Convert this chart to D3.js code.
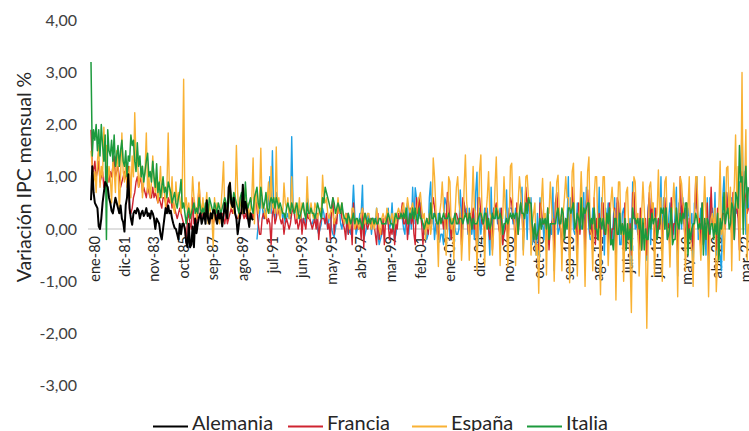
<!DOCTYPE html>
<html><head><meta charset="utf-8">
<script src="https://cdn.jsdelivr.net/npm/d3@7"></script>
<style>
html,body{margin:0;padding:0;background:#fff;}
svg{display:block;font-family:Lato,"Noto Sans",sans-serif;}
</style></head>
<body><svg id="chart" width="749" height="431"></svg>
<script>
// ---- DATA (monthly CPI change, %) ----
const tickLabels = ["ene-80","dic-81","nov-83","oct-85","sep-87","ago-89","jul-91","jun-93","may-95","abr-97","mar-99","feb-01","ene-03","dic-04","nov-06","oct-08","sep-10","ago-12","jul-14","jun-16","may-18","abr-20","mar-22"];
const yTicks = [-3,-2,-1,0,1,2,3,4];

const alemania = [ // ene-80 .. jul-90
0.55,1.2,0.7,0.5,0.45,0.4,0.05,0.0,0.2,0.5,0.7,0.9,
0.85,0.8,0.6,0.5,0.35,0.3,0.45,0.6,0.5,0.4,0.3,0.45,
0.2,0.13,-0.05,0.46,0.6,1.05,0.4,0.2,0.08,0.3,0.35,0.3,
0.4,0.35,0.2,0.3,0.35,0.25,0.3,0.4,0.25,0.3,0.2,0.35,
0.3,0.2,0.0,0.2,0.15,0.1,-0.1,-0.2,0.0,0.2,0.4,0.3,
0.45,0.3,0.35,0.2,0.1,0.02,0.0,-0.1,-0.2,0.1,-0.1,0.1,
0.1,0.0,-0.25,-0.35,0.1,-0.35,-0.3,0.05,-0.35,0.2,-0.08,0.1,
0.23,0.3,0.1,0.2,0.3,0.1,0.55,0.2,0.1,0.3,0.2,0.36,
0.36,0.2,0.1,0.35,0.2,0.3,0.05,0.25,0.5,0.3,0.2,0.8,
0.88,0.5,0.42,0.6,0.3,0.2,-0.1,0.1,0.3,0.3,0.85,0.3,
0.52,0.4,0.2,0.04,0.3,0.2,0.17];

const alemaniaUnificada = [ // oct-90 .. ago-22
-0.2,0.1,0.3,
0.6,0.5,0.2,0.4,0.3,0.4,0.5,1.0,0.3,1.5,0.3,0.2,
0.7,0.5,0.4,0.3,0.4,0.2,0.3,0.1,0.2,0.3,0.2,0.2,
1.77,0.5,0.3,0.4,0.2,0.2,0.4,0.3,0.1,0.2,0.2,0.1,
0.6,0.5,0.2,0.1,0.1,0.2,0.3,0.2,0.0,-0.1,0.0,0.1,
0.4,0.3,0.1,0.2,0.0,0.2,0.3,0.0,-0.1,-0.15,0.0,0.2,
0.5,0.4,0.1,0.0,0.2,0.1,0.3,0.0,-0.1,0.0,-0.1,0.3,
0.84,0.3,-0.1,0.0,0.1,0.3,0.3,0.84,-0.2,-0.1,0.0,0.3,
0.2,0.2,-0.1,0.2,0.2,0.1,0.4,-0.1,-0.3,-0.2,-0.1,0.1,
0.1,0.1,0.1,0.4,0.0,0.1,0.5,0.0,-0.2,-0.1,0.1,0.3,
0.3,0.3,0.2,0.0,-0.1,0.4,0.5,-0.1,0.3,0.0,0.8,0.1,
0.79,0.6,0.2,0.4,0.5,0.1,0.1,-0.1,0.0,-0.2,-0.1,0.6,
0.9,0.1,0.3,-0.2,0.1,-0.1,0.3,-0.25,-0.1,-0.1,-0.3,0.6,
0.5,0.4,0.2,-0.2,-0.2,0.1,0.2,0.0,-0.1,-0.1,0.0,0.75,
0.3,0.0,0.5,0.3,0.4,-0.1,0.4,0.0,-0.1,0.2,-0.2,0.7,
1.09,-0.3,0.4,-0.1,0.2,0.1,0.4,0.0,0.4,0.0,-0.5,0.8,
-0.1,0.4,0.2,0.4,0.1,0.1,0.4,-0.1,-0.3,0.0,0.1,0.75,
-0.3,0.4,0.4,0.4,0.1,0.1,0.4,0.0,0.2,0.2,0.5,0.8,
-0.4,0.4,0.5,-0.2,0.6,0.3,0.6,-0.3,-0.1,-0.2,-0.5,0.3,
-0.5,0.6,0.0,0.2,-0.2,0.2,0.0,0.2,-0.3,0.0,-0.1,0.8,
-0.8,0.5,0.6,-0.1,0.0,0.1,0.2,0.1,-0.1,0.0,0.1,1.0,
-0.5,0.6,0.6,0.0,-0.1,0.0,0.5,0.0,0.1,0.0,0.1,0.7,
-0.5,0.8,0.5,0.0,-0.2,-0.2,0.4,0.4,0.0,0.0,-0.2,0.8,
-0.7,0.6,0.4,-0.5,0.4,0.1,0.5,0.1,0.0,-0.3,0.2,0.6,
-0.7,0.5,0.4,-0.3,-0.3,0.3,0.4,0.0,-0.1,-0.2,-0.1,0.2,
-0.7,0.9,0.5,0.0,0.1,-0.1,0.2,0.0,-0.2,0.0,0.1,0.0,
-0.6,0.4,0.6,-0.3,0.4,0.2,0.4,0.0,0.1,0.2,0.1,1.0,
-0.5,0.6,0.0,0.4,-0.2,0.2,0.5,0.2,0.1,-0.1,0.3,0.8,
-0.9,0.5,0.4,0.0,0.6,0.1,0.4,0.1,0.4,0.2,0.1,0.3,
-0.8,0.5,0.4,1.0,-0.2,0.1,0.4,-0.1,-0.1,0.1,-0.5,0.6,
-0.6,0.6,0.1,0.4,-0.1,0.7,-0.5,-0.2,-0.4,-0.5,-0.8,0.6,
1.0,0.4,0.7,0.5,0.3,0.4,0.6,0.1,0.3,0.5,0.3,0.3,
0.9,0.9,2.0,0.7,1.1,-0.1,0.8,0.4];

const francia = [ // ene-80 .. ago-22
1.9,1.2,1.1,1.3,1.0,1.1,1.3,0.9,1.0,1.1,0.8,0.9,
1.2,1.0,0.9,1.1,1.0,1.2,1.4,1.0,1.1,1.2,1.0,0.8,
0.9,1.0,1.1,1.0,0.9,1.2,0.3,0.3,0.4,0.6,0.7,0.9,
1.0,0.8,0.9,1.0,0.7,0.8,0.7,0.6,0.8,0.7,0.6,0.6,
0.8,0.6,0.7,0.6,0.5,0.6,0.5,0.4,0.6,0.6,0.5,0.4,
0.6,0.5,0.6,0.4,0.5,0.4,0.3,0.2,0.3,0.4,0.3,0.2,
0.1,0.0,-0.27,0.2,0.3,0.1,0.0,0.6,0.1,0.2,0.1,0.3,
0.88,0.3,0.2,0.4,0.3,0.2,0.3,0.2,0.1,0.3,0.2,0.1,
0.2,0.3,0.2,0.3,0.2,0.2,0.3,0.2,0.1,0.3,0.1,0.2,
0.3,0.4,0.3,0.4,0.3,0.2,0.2,0.3,0.2,0.4,0.3,0.2,
0.3,0.2,0.4,0.3,0.2,0.3,0.2,0.5,0.68,0.4,0.1,-0.1,
-0.1,0.2,0.3,0.2,0.3,0.1,0.2,0.1,-0.3,0.3,0.4,0.1,
0.2,0.4,0.3,0.2,0.1,0.2,-0.1,0.1,0.2,0.1,0.0,0.1,
0.3,0.4,0.3,0.1,0.2,0.0,0.1,0.3,-0.1,0.2,0.1,0.0,
0.3,0.2,0.2,0.1,0.0,0.1,0.2,0.0,0.3,-0.2,0.1,0.2,
0.2,0.2,0.1,0.3,0.0,0.1,-0.2,0.4,0.6,-0.1,0.2,0.1,
0.5,0.3,0.4,0.2,0.1,0.0,-0.2,0.3,-0.1,0.2,0.1,-0.3,
0.5,0.1,0.0,0.1,0.0,0.1,-0.2,0.4,-0.36,0.3,0.1,0.0,
0.1,0.2,0.0,0.2,0.1,-0.1,-0.3,0.3,-0.2,0.0,-0.1,0.2,
-0.3,0.2,0.3,0.1,-0.2,0.0,-0.1,0.2,-0.3,0.1,0.0,0.3,
0.2,0.3,0.5,0.1,0.1,0.3,-0.2,0.1,0.4,0.1,0.3,-0.1,
-0.3,0.6,0.3,0.6,0.4,0.1,-0.3,0.1,0.0,0.2,-0.1,0.2,
0.1,0.4,0.6,0.4,0.2,0.0,-0.2,0.2,0.2,0.2,0.0,0.3,
0.0,0.7,0.5,0.1,-0.2,0.1,-0.1,0.3,0.3,0.2,0.1,0.3,
-0.3,0.6,0.5,0.3,0.3,0.0,-0.2,0.3,0.0,0.4,0.0,0.1,
-0.5,0.6,0.6,0.3,0.1,0.1,-0.2,0.4,0.2,0.0,-0.2,0.2,
-0.4,0.4,0.4,0.5,0.3,0.0,-0.1,0.4,-0.3,-0.1,0.0,0.2,
-0.3,0.3,0.6,0.5,0.2,0.1,-0.4,0.5,-0.1,0.2,0.5,0.3,
-0.2,0.3,0.8,0.4,0.6,0.4,-0.3,0.1,-0.1,0.0,-0.4,-0.3,
-0.4,0.5,0.4,0.1,0.1,0.2,-0.4,0.4,-0.4,0.1,0.1,0.2,
-0.5,0.5,0.7,0.3,0.1,0.0,-0.4,0.3,-0.2,0.2,0.1,0.3,
-0.5,0.3,0.8,0.4,0.1,0.1,-0.4,0.5,-0.1,0.3,0.3,0.3,
-0.4,0.5,0.75,0.2,-0.1,0.1,-0.4,0.6,-0.3,0.2,-0.2,0.3,
-0.5,0.5,0.5,-0.1,0.1,0.2,-0.4,0.5,-0.3,0.0,0.0,0.4,
-0.6,0.6,0.5,0.1,0.0,0.1,-0.4,0.5,-0.4,0.0,-0.2,0.1,
-0.5,0.7,0.7,0.1,0.2,0.0,-0.4,0.4,-0.4,0.1,0.1,0.2,
-0.5,0.3,0.7,0.1,0.5,0.2,-0.4,0.4,-0.2,0.2,0.0,0.4,
-0.4,0.2,0.6,0.1,0.0,0.1,-0.4,0.6,-0.2,0.1,0.1,0.3,
-0.4,0.1,1.0,0.2,0.5,0.1,-0.3,0.5,-0.2,0.2,-0.2,0.0,
-0.4,0.2,0.9,0.4,0.1,0.2,-0.4,0.5,-0.3,0.1,0.1,0.5,
-0.5,0.1,0.8,0.1,0.0,0.2,-0.4,0.4,-0.5,0.1,0.2,0.3,
0.3,0.0,0.7,0.3,0.3,0.2,-0.1,0.7,-0.2,0.4,0.4,0.2,
-0.4,0.9,1.1,0.5,0.7,0.6,0.3,0.4];

const espana = [ // ene-80 .. ago-22
1.5,1.2,0.9,1.1,0.7,1.3,1.6,0.8,1.2,1.0,1.95,1.4,
1.6,0.9,1.2,1.0,0.5,1.3,1.1,0.7,1.5,1.2,0.3,1.0,
1.84,1.1,0.9,1.3,0.8,1.0,1.2,0.6,1.4,1.0,2.23,1.3,
1.5,0.8,1.0,1.2,0.6,0.9,1.1,1.84,0.7,1.0,0.6,0.9,
1.4,0.9,0.7,1.0,0.5,0.8,1.2,0.6,0.9,0.7,0.4,0.8,
1.84,0.7,0.5,1.0,0.4,0.3,0.9,0.5,0.7,0.6,0.3,0.9,
2.87,0.4,0.6,0.3,0.5,0.2,0.4,1.0,0.6,0.4,0.2,0.5,
0.9,0.5,0.3,0.6,0.2,0.4,0.7,0.1,0.5,0.3,0.2,-0.35,
0.6,0.3,0.5,0.2,0.1,0.4,0.8,1.29,0.3,0.5,0.2,0.6,
0.9,0.4,0.6,0.3,0.5,1.6,0.7,0.2,0.6,0.4,0.3,0.5,
0.8,0.3,0.5,0.2,0.4,0.6,1.36,0.1,0.7,0.5,0.3,0.6,
1.55,0.4,0.5,0.3,0.2,0.6,0.9,0.3,1.2,0.4,0.5,0.3,
1.57,0.3,0.6,0.2,0.4,0.3,0.88,0.5,0.4,0.6,0.2,0.3,
1.0,0.4,0.3,0.5,0.2,0.3,0.6,0.2,0.5,0.4,0.3,0.2,
1.0,0.4,0.2,0.5,0.3,0.2,0.5,0.4,0.2,0.3,0.4,0.3,
1.03,0.6,0.5,0.6,0.3,0.2,0.3,0.4,0.3,0.1,0.2,0.3,
0.6,0.3,0.4,0.5,0.2,0.1,0.3,0.2,0.2,0.0,0.1,0.4,
0.4,0.0,0.1,0.2,0.0,0.1,0.3,0.4,0.2,0.1,0.2,0.3,
0.3,0.1,0.0,0.2,0.0,0.1,0.4,0.2,0.0,-0.1,0.2,0.3,
0.2,0.1,0.4,0.3,0.1,0.2,0.3,0.1,0.3,0.1,0.3,0.4,
0.3,0.2,0.4,0.5,0.2,0.3,0.6,0.4,0.3,0.4,0.5,0.3,
0.2,0.3,0.5,0.6,0.7,0.4,0.2,0.3,-0.2,0.2,0.0,0.3,
-0.1,0.1,1.36,1.0,0.4,0.0,-0.72,0.3,0.5,0.9,0.4,0.2,
-0.5,0.0,1.0,0.9,0.0,0.2,-0.6,0.3,0.8,1.0,0.5,0.3,
-0.6,-0.1,0.8,1.42,0.5,0.3,-0.6,0.2,0.4,1.2,0.4,0.3,
-0.8,0.1,1.1,1.42,0.2,0.2,-0.7,0.3,0.6,1.1,0.3,0.2,
-0.5,0.0,0.8,1.38,0.4,0.3,-0.7,0.2,0.2,1.0,0.4,0.2,
-0.72,0.1,1.2,1.26,0.3,0.2,-0.7,0.1,0.5,1.0,0.7,0.4,
-0.5,0.2,1.0,1.03,0.6,0.6,-0.5,0.1,0.3,0.5,-0.5,-0.3,
-1.23,0.0,0.5,0.97,0.2,0.3,-0.88,0.3,0.3,0.9,0.4,0.1,
-1.0,-0.1,0.9,1.03,0.3,0.2,-0.8,0.3,0.6,1.0,0.6,0.6,
-1.03,0.2,1.1,1.26,0.1,-0.1,-0.9,0.2,0.4,1.1,0.4,0.1,
-1.1,0.1,1.1,1.38,0.0,-0.1,-0.8,0.6,1.0,1.0,-0.1,0.0,
-1.26,0.2,1.0,1.0,0.0,0.1,-0.7,0.0,0.5,0.8,0.4,0.3,
-1.36,0.1,0.9,0.9,-0.1,0.0,-1.0,0.0,0.7,0.8,-0.1,-0.6,
-1.6,0.2,1.0,0.9,0.1,0.3,-0.9,-0.3,0.3,0.9,0.4,-0.3,
-1.9,-0.3,0.8,0.9,0.4,0.5,-0.9,0.1,0.3,1.13,0.2,0.6,
-1.0,0.1,0.9,1.0,-0.1,0.0,-0.73,0.2,0.4,0.88,0.4,0.1,
-1.3,0.2,1.0,0.88,0.5,0.3,-0.8,0.1,0.4,1.0,-0.2,-0.4,
-1.1,0.1,1.0,1.0,0.1,-0.1,-0.6,0.0,0.3,1.0,0.2,0.0,
-1.3,-0.1,0.2,0.3,0.0,0.4,-1.2,-0.6,0.4,1.3,-0.1,0.2,
-0.6,0.1,1.17,1.2,0.2,0.8,-0.8,0.5,0.8,1.8,0.4,1.2,
-0.6,0.4,3.0,0.0,0.8,1.9,-0.6,0.1];

const italia = [ // ene-80 .. ago-22
3.2,1.4,1.9,1.7,2.0,1.5,1.9,1.4,2.0,1.6,1.3,1.8,
-0.2,1.9,1.5,1.4,1.7,1.3,1.8,1.2,1.4,1.6,1.2,1.5,
1.7,1.3,1.2,1.5,1.0,1.4,1.3,1.8,1.6,1.7,1.3,1.1,
1.65,1.2,1.4,1.0,1.2,0.9,1.1,1.3,1.45,1.0,1.1,0.9,
1.3,1.0,0.8,1.25,0.7,0.9,0.6,0.8,1.0,0.7,0.8,0.6,
0.9,0.8,0.7,0.5,0.6,0.7,0.5,0.4,0.6,0.7,0.95,0.4,
0.5,0.3,0.1,0.3,0.4,0.2,0.3,0.4,0.5,0.3,0.4,0.3,
0.6,0.4,0.3,0.4,0.3,0.5,0.4,0.3,0.6,0.5,0.4,0.3,
0.5,0.4,0.3,0.5,0.4,0.3,0.4,0.5,0.6,0.5,0.4,0.5,
0.8,0.6,0.5,0.7,0.6,0.5,0.4,0.3,0.6,0.7,0.5,0.4,
0.9,0.5,0.4,0.5,0.6,0.4,0.3,0.6,0.7,0.8,0.5,0.4,
0.8,0.6,0.4,0.5,0.7,0.4,0.3,0.5,0.6,0.5,0.6,0.4,
0.6,0.5,0.4,0.5,0.4,0.3,0.3,0.2,0.4,0.5,0.4,0.3,
0.5,0.4,0.3,0.4,0.5,0.3,0.2,0.3,0.4,0.5,0.3,0.2,
0.5,0.3,0.3,0.4,0.3,0.3,0.2,0.3,0.5,0.4,0.3,0.2,
0.6,0.5,0.8,0.7,0.6,0.5,0.4,0.4,0.6,0.5,0.3,0.4,
0.5,0.4,0.3,0.5,0.3,0.2,0.2,0.1,0.3,0.2,0.1,0.2,
0.3,0.1,0.2,0.2,0.1,0.2,0.1,0.0,0.2,0.3,0.2,0.1,
0.2,0.1,0.2,0.2,0.1,0.2,0.1,0.1,0.2,0.2,0.1,0.1,
0.1,0.1,0.2,0.3,0.2,0.1,0.1,0.0,0.2,0.3,0.2,0.2,
0.2,0.3,0.2,0.3,0.2,0.4,0.1,0.1,0.3,0.2,0.4,0.2,
0.4,0.2,0.1,0.4,0.2,0.2,0.1,0.0,0.1,0.2,0.1,0.1,
0.5,0.2,0.2,0.3,0.2,0.1,0.1,0.3,0.1,0.2,0.3,0.2,
0.2,0.2,0.3,0.2,0.1,0.1,0.2,0.3,0.1,0.1,0.2,0.2,
0.2,0.1,0.2,0.3,0.2,0.1,0.3,0.2,0.0,0.2,0.1,0.1,
0.1,0.2,0.3,0.3,0.2,0.1,0.3,0.3,0.0,0.2,0.0,0.1,
0.3,0.2,0.2,0.4,0.2,0.2,0.3,0.2,-0.1,0.1,0.1,0.2,
0.1,0.2,0.3,0.2,0.3,0.2,0.3,0.3,-0.1,0.3,0.5,0.3,
0.3,0.2,0.5,0.3,0.6,0.5,0.5,0.1,-0.2,0.1,-0.2,-0.1,
0.0,0.2,0.0,0.2,0.1,0.2,0.0,0.4,-0.2,0.1,0.1,0.1,
0.1,0.1,0.3,0.4,0.1,0.1,0.4,0.3,-0.2,0.2,0.0,0.4,
0.4,0.3,0.4,0.5,0.0,0.1,0.3,0.2,0.0,0.6,0.0,0.4,
0.3,0.4,0.5,0.5,0.0,0.2,0.1,0.4,0.0,0.0,-0.2,0.2,
0.2,0.0,0.2,0.0,-0.1,0.3,0.1,0.4,-0.3,-0.2,-0.4,0.2,
0.2,-0.1,-0.1,0.3,-0.1,0.1,-0.1,0.2,-0.4,0.1,-0.2,0.0,
-0.4,0.4,0.2,0.2,0.1,0.2,0.0,0.2,-0.4,0.2,-0.4,0.0,
-0.2,-0.2,0.2,0.0,0.3,0.1,0.2,0.2,-0.2,0.0,0.1,0.4,
0.3,0.4,0.0,0.4,-0.2,-0.1,0.1,0.4,-0.3,-0.2,-0.2,0.4,
0.1,0.0,0.3,0.1,0.3,0.2,0.5,0.5,-0.5,0.0,-0.2,0.0,
0.1,0.1,0.3,0.2,0.0,0.1,0.0,0.5,-0.5,0.2,-0.2,0.2,
0.1,-0.1,0.1,0.1,-0.2,0.1,-0.1,0.3,-0.6,0.2,0.0,0.2,
0.7,0.1,0.3,0.4,0.0,0.1,0.5,0.4,-0.2,0.7,0.6,0.4,
1.6,0.9,1.0,-0.1,0.8,1.2,0.4,0.8];

// ---- CHART ----
const meses = ["ene","feb","mar","abr","may","jun","jul","ago","sep","oct","nov","dic"];
function monthIndex(label){
  const [m, yy] = label.split("-");
  const y = +yy, year = y >= 50 ? 1900 + y : 2000 + y;
  return (year - 1980) * 12 + meses.indexOf(m);
}

const series = [
  {name:"Alemania unificada", start:"oct-90", values:alemaniaUnificada, color:"#1da1e4", width:1.4, legend:false},
  {name:"Francia", start:"ene-80", values:francia, color:"#cf2430", width:1.4, legend:true},
  {name:"España",  start:"ene-80", values:espana,  color:"#f9b234", width:1.4, legend:true},
  {name:"Italia",  start:"ene-80", values:italia,  color:"#1c9a3d", width:1.5, legend:true},
  {name:"Alemania", start:"ene-80", values:alemania, color:"#000000", width:2, legend:true}
];
const legendOrder = ["Alemania","Francia","España","Italia"];

const svg = d3.select("#chart");
const nMonths = francia.length;
const x = d3.scaleLinear().domain([0, nMonths - 1]).range([91, 91 + 1.2866 * (nMonths - 1)]);
const y = d3.scaleLinear().domain([-3, 4]).range([385.6, 20.2]);

// zero line
svg.append("line")
  .attr("x1", 88).attr("x2", 749)
  .attr("y1", y(0)).attr("y2", y(0))
  .attr("stroke", "#bfbfbf").attr("stroke-width", 1.2);

// y axis
const yAxis = svg.append("g").attr("transform", "translate(77,0)")
  .call(d3.axisLeft(y).tickValues(yTicks).tickSize(0).tickPadding(0)
    .tickFormat(d => d3.format(".2f")(d).replace(".", ",").replace("−","-")));
yAxis.select(".domain").remove();
yAxis.selectAll("text").attr("font-family", "Lato").attr("font-size", 16).attr("fill", "#404040");

// x axis labels at zero line
const xAxis = svg.append("g").attr("transform", `translate(0,${y(0)})`)
  .call(d3.axisBottom(x).tickValues(tickLabels.map(monthIndex)).tickSize(0).tickPadding(0)
    .tickFormat((d, i) => tickLabels[i]));
xAxis.select(".domain").remove();
xAxis.selectAll("text")
  .attr("transform", "rotate(-90)")
  .attr("text-anchor", "end")
  .attr("x", -7).attr("y", 3.5).attr("dy", "0.35em")
  .attr("font-family", "Lato").attr("font-size", 14.5).attr("fill", "#262626");

// lines
const line = d3.line().x(d => x(d.i)).y(d => y(d.v));
series.forEach(s => {
  const s0 = monthIndex(s.start);
  const pts = s.values.map((v, k) => ({i: s0 + k, v}));
  svg.append("path").datum(pts)
    .attr("fill", "none").attr("stroke", s.color)
    .attr("stroke-width", s.width).attr("stroke-linejoin", "round")
    .attr("d", line);
});

// y title
svg.append("text")
  .attr("transform", "translate(31,177) rotate(-90)")
  .attr("text-anchor", "middle")
  .attr("font-family", "Lato").attr("font-size", 19.5).attr("fill", "#262626")
  .text("Variación IPC mensual %");

// legend
const legendX = [153, 288, 412, 527];
const lg = svg.append("g");
legendOrder.forEach((name, i) => {
  const s = series.find(d => d.name === name);
  lg.append("line").attr("x1", legendX[i]).attr("x2", legendX[i] + 35)
    .attr("y1", 426.5).attr("y2", 426.5)
    .attr("stroke", s.color).attr("stroke-width", 2);
  lg.append("text").attr("x", legendX[i] + 39).attr("y", 430)
    .attr("font-family", "Lato").attr("font-size", 20).attr("fill", "#262626")
    .text(name);
});
</script></body></html>
